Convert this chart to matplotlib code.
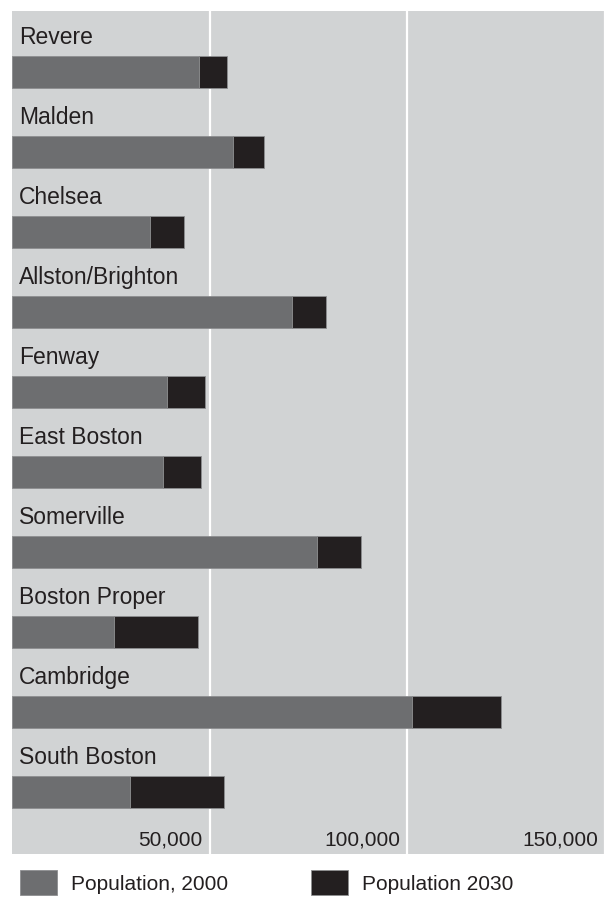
import matplotlib
matplotlib.use("Agg")
import matplotlib.pyplot as plt
from matplotlib.transforms import ScaledTranslation, blended_transform_factory

# neighbourhood populations
areas = ["Revere", "Malden", "Chelsea", "Allston/Brighton", "Fenway",
         "East Boston", "Somerville", "Boston Proper", "Cambridge", "South Boston"]
pop_2000 = [47300, 56000, 34900, 70800, 39300, 38100, 77100, 25800, 101300, 29900]
pop_2030 = [54400, 63800, 43400, 79400, 48700, 47700, 88300, 47000, 123700, 53500]
ticks = [50000, 100000, 150000]
tick_labels = ["50,000", "100,000", "150,000"]

GRAY = "#6d6e70"
BLACK = "#231f20"
PANEL = "#d1d3d4"
TEXT = "#231f20"

plt.rcParams["font.family"] = ["Liberation Sans", "DejaVu Sans"]

fig = plt.figure(figsize=(6.05, 8.99), dpi=100)
ax = fig.add_axes([12 / 605, 45 / 899, 593 / 605, 843 / 899])
ax.set_facecolor(PANEL)
for s in ax.spines.values():
    s.set_visible(False)

y = list(range(len(areas)))
growth = [b - a for a, b in zip(pop_2000, pop_2030)]
h1 = ax.barh(y, pop_2000, height=0.4, color=GRAY, edgecolor="#8d8e90",
             linewidth=0.6, zorder=3, label="Population, 2000")
h2 = ax.barh(y, growth, left=pop_2000, height=0.4, color=BLACK,
             edgecolor="#8d8e90", linewidth=0.6, zorder=3, label="Population 2030")

ax.set_xlim(0, 147000)
ax.set_ylim(9.775, -0.7625)
ax.set_xticks(ticks)
ax.set_yticks([])
ax.tick_params(axis="x", length=0, labelbottom=False)
ax.grid(axis="x", color="white", linewidth=1.6, zorder=1)

# names sit above each bar
name_off = ScaledTranslation(7 / 100, 0, fig.dpi_scale_trans)
for i, name in enumerate(areas):
    ax.text(0, i - 0.344, name, fontsize=16.5, color=TEXT, va="baseline",
            ha="left", transform=ax.transData + name_off)

# value labels inside the panel, just left of each grid line
trans = blended_transform_factory(ax.transData, ax.transAxes)
lab_off = ScaledTranslation(-7 / 100, 8 / 100, fig.dpi_scale_trans)
for t, lab in zip(ticks, tick_labels):
    ax.text(t, 0, lab, fontsize=15, color=TEXT, ha="right", va="baseline",
            transform=trans + lab_off, clip_on=False)

fig.legend(handles=[h1, h2], loc="upper left",
           bbox_to_anchor=(20 / 605, 29 / 899), bbox_transform=fig.transFigure,
           ncol=2, frameon=False, fontsize=15, labelcolor=TEXT,
           handlelength=1.78, handleheight=1.5, handletextpad=0.67,
           columnspacing=3.98, borderpad=0, borderaxespad=0)

fig.savefig("out.png", dpi=100)
